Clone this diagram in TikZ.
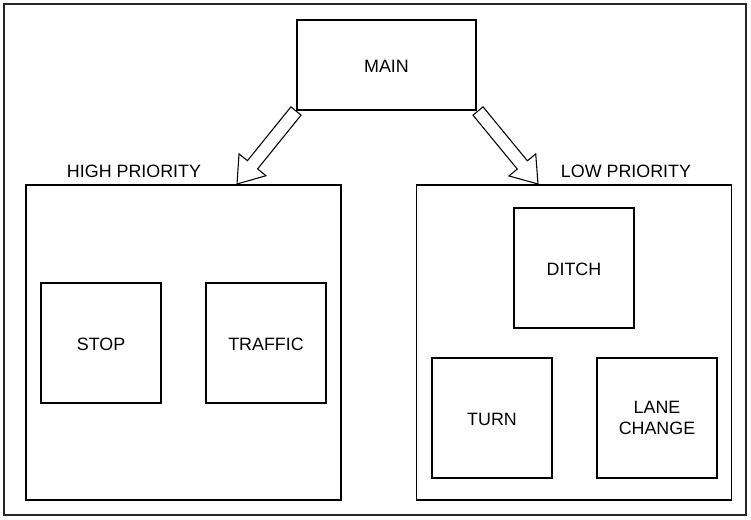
\documentclass[tikz,border=0pt]{standalone}
\usepackage{fontspec}
\setmainfont{Liberation Sans}
\usetikzlibrary{calc}

\tikzset{
  caption/.style={text height=10.9pt, text depth=0pt},
  box/.style={draw, line width=0.8pt, inner sep=0pt, outer sep=0pt,
    minimum width=90pt, minimum height=90pt, align=center, caption},
  mainbox/.style={box, minimum width=134.25pt, minimum height=67.5pt},
  groupbox/.style={box, minimum width=236.25pt, minimum height=236.25pt},
  hollow arrow/.style={draw, line width=0.8pt, fill=white, line join=miter},
}

% block arrow from tail #1 to tip #2
\newcommand{\blockarrow}[2]{%
  \path[hollow arrow]
    ($(#1)!4.9pt!90:(#2)$)
    -- ($(#2)!18.5pt!(#1)!4.9pt!-90:(#1)$)
    -- ($(#2)!18.5pt!(#1)!13pt!-90:(#1)$)
    -- (#2)
    -- ($(#2)!18.5pt!(#1)!13pt!90:(#1)$)
    -- ($(#2)!18.5pt!(#1)!4.9pt!90:(#1)$)
    -- ($(#1)!4.9pt!-90:(#2)$)
    -- cycle;}

\begin{document}
\begin{tikzpicture}[x=0.75pt, y=-0.75pt, font=\fontsize{13.4}{15.75}\selectfont]
  \useasboundingbox (0,0) rectangle (751,520);
  \draw[line width=1pt, black!85] (4,4) rectangle (746,515);

  \node[mainbox] (main) at (386.5,65) {MAIN};

  % priority groups
  \node[groupbox] (high) at (183.5,342.5) {};
  \node[groupbox] (low) at (574,342.5) {};
  \node[caption] (highlabel) at (134,170) {HIGH PRIORITY};
  \node[caption] (lowlabel) at (626,170) {LOW PRIORITY};

  \node[box] (stop) at (101,343) {STOP};
  \node[box] (traffic) at (266,343) {TRAFFIC};
  \node[box] (ditch) at (574,268) {DITCH};
  \node[box] (turn) at (492,418) {TURN};
  \node[box, text height=, text depth=] (lane) at (657,418) {LANE\\CHANGE};

  \coordinate (hightail) at (296,111);
  \coordinate (hightip) at (237,184);
  \coordinate (lowtail) at (478,111);
  \coordinate (lowtip) at (538,184);
  \blockarrow{hightail}{hightip}
  \blockarrow{lowtail}{lowtip}
\end{tikzpicture}
\end{document}
